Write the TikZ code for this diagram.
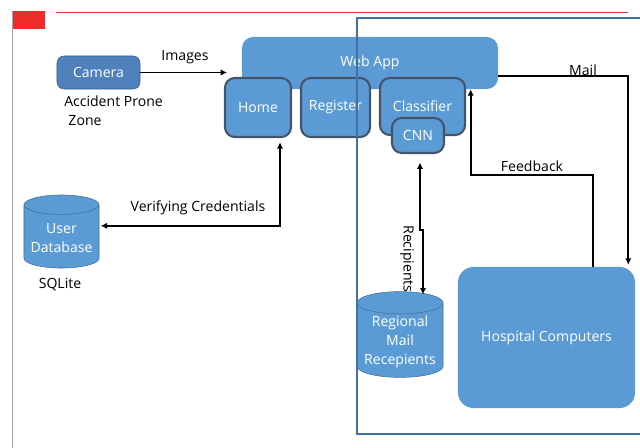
\documentclass[tikz,border=0pt]{standalone}
\usepackage{fontspec}
\setmainfont{Open Sans}
\definecolor{accblue}{HTML}{5B9BD5}
\definecolor{accdark}{HTML}{4F81BD}
\definecolor{accedge}{HTML}{385D8A}
\definecolor{accslate}{HTML}{44546A}
\definecolor{accframe}{HTML}{41719C}
\definecolor{accred}{HTML}{EE2A2A}
\usetikzlibrary{
  arrows.meta,
  positioning,
  shapes.geometric,
  calc,
}

\begin{document}
\begin{tikzpicture}[
  x=0.025cm, y=-0.025cm,
  font=\fontsize{10}{13.5}\selectfont,
  block/.style={
    fill=accblue, rounded corners=8pt, text=white, align=center,
  },
  page/.style={
    draw=accslate, line width=1.5pt, fill=accblue, rounded corners=7pt,
    text=white, align=center,
  },
  device/.style={
    draw=accedge, fill=accdark, rounded corners=5pt, text=white,
    align=center,
  },
  store/.style={
    cylinder, shape border rotate=90, aspect=0.3, draw=accframe, thin,
    fill=accblue, text=white, align=center, inner sep=1pt,
    anchor=shape center,
  },
  tag/.style={text=black, align=left},
  flow/.style={
    draw=black, line width=1.3pt, -{Latex[length=4.5pt,width=4.5pt]},
  },
  both/.style={
    {Latex[length=4.5pt,width=4.5pt]}-{Latex[length=4.5pt,width=4.5pt]},
  },
]
  \useasboundingbox (0,0) rectangle (640,448);

  % --- page marks ---
  \fill[accred] (13,11) rectangle (45,29);
  \draw[accred, thin] (56,12) -- (628,12);
  \draw[gray!70, line width=1pt] (12.5,11) -- (12.5,448);

  % --- source side ---
  \node[device, minimum width=2.075cm, minimum height=0.825cm] (camera) at (98.5,72.5) {Camera};
  \node[tag, anchor=north west, inner sep=0pt] (zone) at (64,96) {Accident Prone\\\hspace{3pt}Zone};
  \node[store, minimum width=1.875cm, minimum height=1.825cm] (userdb) at (61.5,231.5) {User\\Database};
  \node[tag] (sqlite) at (60,285) {SQLite};

  % --- web application ---
  \node[block, minimum width=6.4cm, minimum height=1.3cm] (webapp) at (370,63) {Web App};
  \node[page, minimum width=1.65cm, minimum height=1.475cm] (home) at (258,107.5) {Home};
  \node[page, minimum width=1.725cm, minimum height=1.475cm] (register) at (335.5,107.5) {Register};
  \node[page, minimum width=2.125cm, minimum height=1.425cm] (classifier) at (422.5,106.5) {Classifier};
  \node[page, minimum width=1.3cm, minimum height=0.875cm] (cnn) at (418,135.5) {CNN};

  % --- receivers ---
  \node[store, minimum width=2.15cm, minimum height=1.975cm] (regional) at (400,334.5) {Regional\\Mail\\Recepients};
  \node[block, rounded corners=11pt, minimum width=4.425cm, minimum height=3.525cm] (hospital) at (546.5,337.5) {Hospital Computers};

  % --- connectors ---
  \draw[flow, shorten >=8\pgflinewidth] (camera) -- (camera -| webapp.west);
  \node[tag] (images) at (185,57) {Images};

  \draw[flow, both, shorten >=1pt, shorten <=3pt]
    ($(home.south)+(22,0)$) |- ($(userdb.east)+(0,-12)$);
  \node[tag] (verify) at (198,208) {Verifying Credentials};

  \draw[flow, both, shorten <=6pt]
    ($(cnn.south)+(2,0)$) -- ++(0,76) -- ++(3,0) -- ($(regional.north)+(23,3)$);
  \node[tag, rotate=-90] (recip) at (407,259) {Recipients};

  \draw[flow] ($(webapp.east)+(0,13)$) -| ($(hospital.north east)+(-7,-2)$);
  \node[tag] (mail) at (583,70) {Mail};

  \draw[flow] ($(hospital.north)+(46.5,0)$) -- ++(0,-92) -| ($(webapp.south west)+(229,0)$);
  \node[tag] (feedback) at (532,166) {Feedback};

  % --- server frame ---
  \draw[accframe, line width=0.8pt] (645,18) -- (357,18) -- (357,434) -- (645,434);
\end{tikzpicture}
\end{document}
